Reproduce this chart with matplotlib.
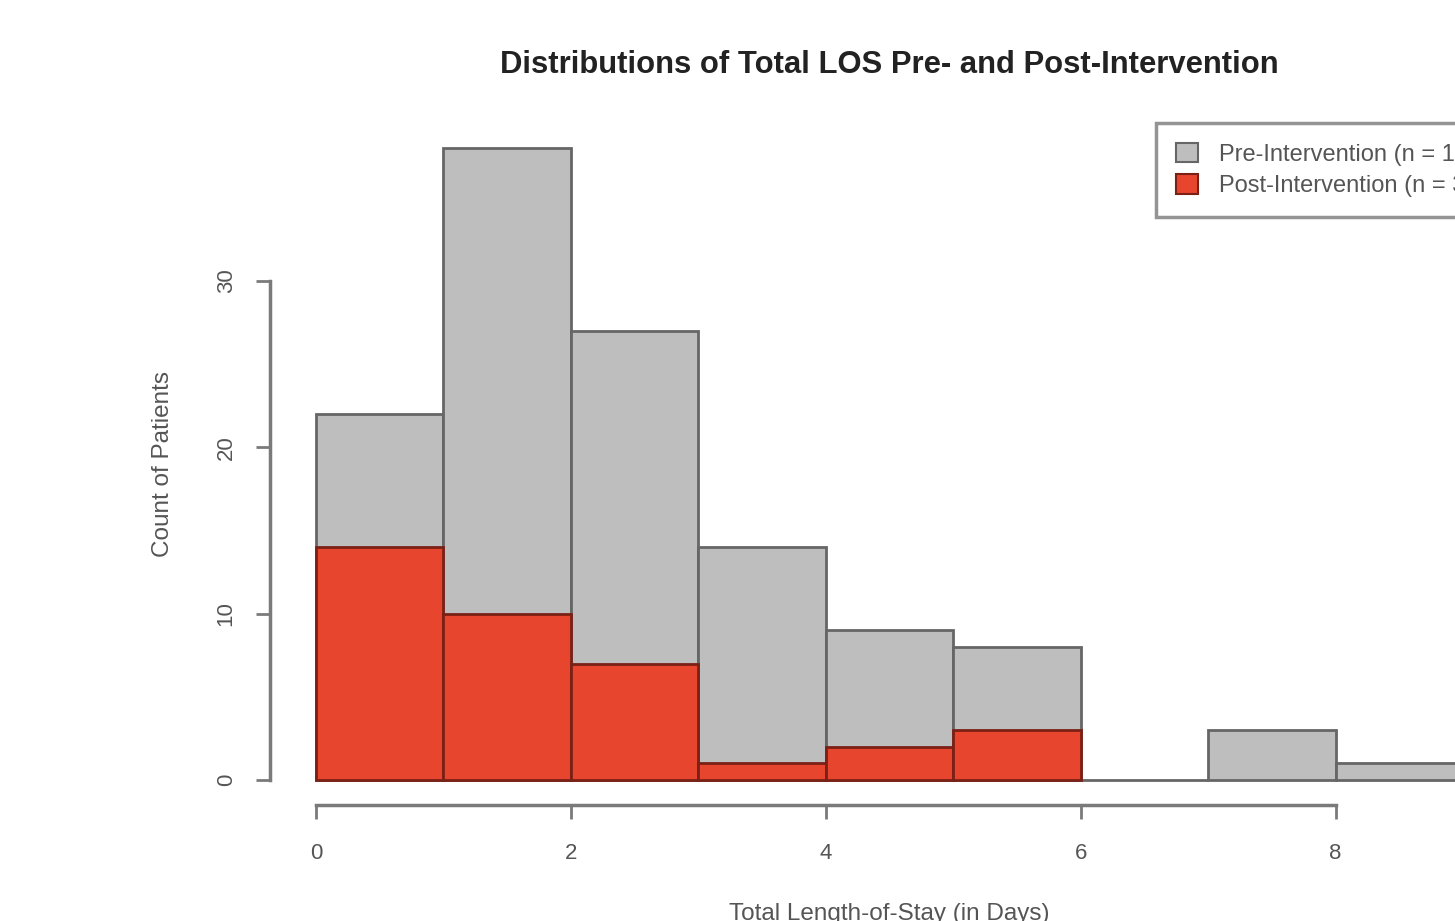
import numpy as np
import matplotlib
matplotlib.use("Agg")
import matplotlib.pyplot as plt
from matplotlib.patches import Patch

plt.rcParams['font.family'] = ['Liberation Sans', 'DejaVu Sans']

# histogram bins (days) and counts
bin_edges = [0, 1, 2, 3, 4, 5, 6, 7, 8, 9]
pre_counts = [22, 38, 27, 14, 9, 8, 0, 3, 1]
post_counts = [14, 10, 7, 1, 2, 3, 0, 0, 0]

title = 'Distributions of Total LOS Pre- and Post-Intervention'
pre_label = 'Pre-Intervention (n = %d)' % sum(pre_counts)
post_label = 'Post-Intervention (n = %d)' % sum(post_counts)
x_ticks = [0, 2, 4, 6, 8]
y_ticks = [0, 10, 20, 30]

gray = '#bebebe'
red = '#e8452f'
axis_col = '#7a7a7a'
text_col = '#555555'

fig = plt.figure(figsize=(14.55, 9.21), dpi=100)
# plot region runs past the right edge, as in the cropped original
ax = fig.add_axes([270 / 1455, 1 - 805.3 / 921, 1239 / 1455, 682.5 / 921])

lefts = np.array(bin_edges[:-1])
widths = np.diff(bin_edges)
ax.bar(lefts, pre_counts, width=widths, align='edge', color=gray,
       edgecolor='#666666', linewidth=2)
post = [c if c > 0 else np.nan for c in post_counts]
ax.bar(lefts, post, width=widths, align='edge', color=red,
       edgecolor='#7a2015', linewidth=2)

ax.set_xlim(-0.36, 9.36)
ax.set_ylim(-1.52, 39.52)

for s in ['top', 'right']:
    ax.spines[s].set_visible(False)
ax.spines['left'].set_bounds(0, 30)
ax.spines['bottom'].set_bounds(0, 8)
for s in ['left', 'bottom']:
    ax.spines[s].set_color(axis_col)
    ax.spines[s].set_linewidth(2.5)

ax.set_xticks(x_ticks)
ax.set_yticks(y_ticks)
ax.set_yticklabels([str(v) for v in y_ticks], rotation=90, va='center')
ax.tick_params(axis='both', length=10, width=2, color=axis_col,
               labelsize=16, labelcolor=text_col)
ax.tick_params(axis='x', pad=17)
ax.tick_params(axis='y', pad=14)

ax.set_xlabel('Total Length-of-Stay (in Days)', fontsize=17.5, color=text_col)
ax.xaxis.set_label_coords(0.5, -0.143)
ax.set_ylabel('Count of Patients', fontsize=17.5, color=text_col)
ax.yaxis.set_label_coords(-0.0775, 0.5)

ax.set_title(title, fontsize=22.3, fontweight='bold', color='#222222', pad=36)

handles = [Patch(facecolor=gray, edgecolor='#666666', linewidth=1.5),
           Patch(facecolor=red, edgecolor='#7a2015', linewidth=1.5)]
leg = ax.legend(handles, [pre_label, post_label], loc='upper right',
                bbox_to_anchor=(1.0, 1.0), borderaxespad=0, fontsize=17,
                frameon=True, fancybox=False, handlelength=0.9,
                handleheight=0.9, handletextpad=0.9, borderpad=0.85,
                labelspacing=0.35, labelcolor=text_col)
leg.get_frame().set_edgecolor(axis_col)
leg.get_frame().set_linewidth(2.5)

fig.savefig('out.png', dpi=100)
